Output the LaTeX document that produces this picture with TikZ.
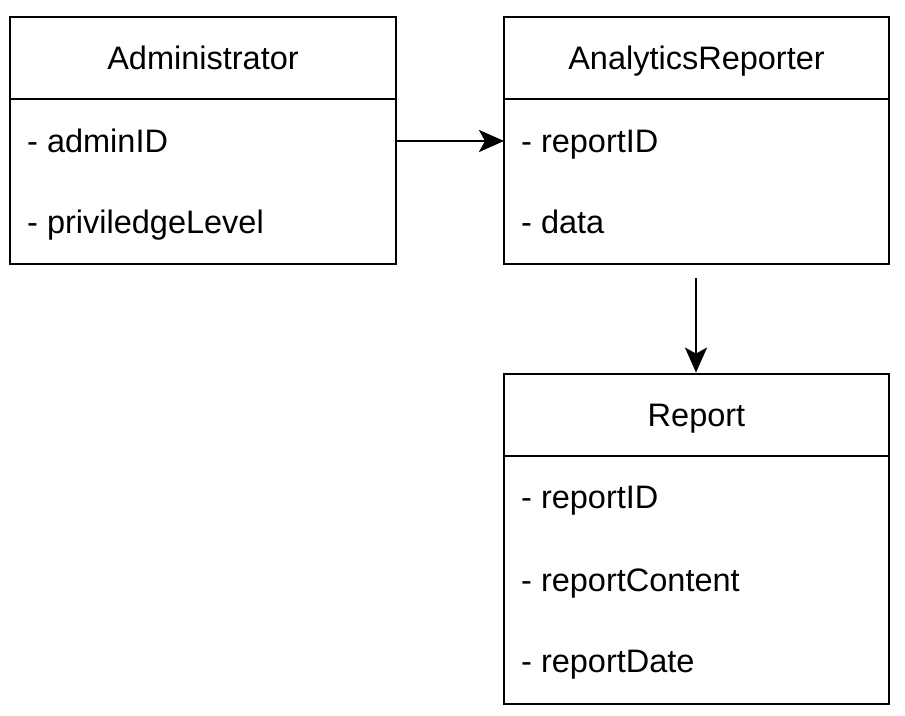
\documentclass[tikz,border=0pt]{standalone}
\usepackage{fontspec}
\setmainfont{Liberation Sans}
\usetikzlibrary{arrows.meta}
\begin{document}
\begin{tikzpicture}[x=1pt,y=-1pt,
  umlbox/.style={draw=black, line width=2.8pt, rectangle, inner sep=0pt},
  title/.style={font=\fontsize{32.5}{36}\selectfont, anchor=base, inner sep=0pt},
  attr/.style={font=\fontsize{32.5}{36}\selectfont, anchor=base west, inner sep=0pt},
  divider/.style={line width=2.8pt},
  conn/.style={line width=2.8pt, -{Stealth[length=25pt,width=22pt,inset=6pt]}}]
\useasboundingbox (0,0) rectangle (905,715);
% Administrator
\node[umlbox, minimum width=386pt, minimum height=247pt] (admin) at (203,140.5) {};
\draw[divider] (10,99) coordinate (ad1) -- (396,99) coordinate (ad2);
\node[title] (adminT) at (203,69) {Administrator};
\node[attr] (adminA1) at (27,152) {- adminID};
\node[attr] (adminA2) at (27,233) {- priviledgeLevel};
% AnalyticsReporter
\node[umlbox, minimum width=385pt, minimum height=247pt] (rep) at (696.5,140.5) {};
\draw[divider] (504,99) coordinate (rp1) -- (889,99) coordinate (rp2);
\node[title] (repT) at (696.5,69) {AnalyticsReporter};
\node[attr] (repA1) at (521,152) {- reportID};
\node[attr] (repA2) at (521,233) {- data};
% Report
\node[umlbox, minimum width=385pt, minimum height=330pt] (report) at (696.5,539) {};
\draw[divider] (504,456) coordinate (r1) -- (889,456) coordinate (r2);
\node[title] (reportT) at (696.5,426) {Report};
\node[attr] (reportA1) at (521,508) {- reportID};
\node[attr] (reportA2) at (521,591) {- reportContent};
\node[attr] (reportA3) at (521,672) {- reportDate};
% connectors
\coordinate (c1) at (396,141);
\coordinate (c2) at (504,141);
\draw[conn] (c1) -- (c2);
\coordinate (c3) at (696,278);
\draw[conn] (c3) -- (c3 |- report.north);
\end{tikzpicture}
\end{document}
